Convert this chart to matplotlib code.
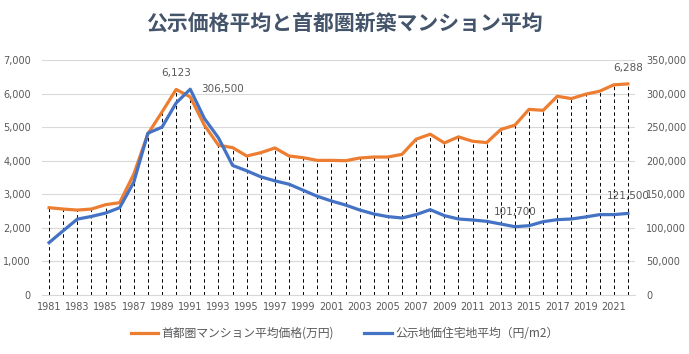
import matplotlib.pyplot as plt
import matplotlib.ticker as mticker
import numpy as np

plt.rcParams['font.family'] = ['Noto Sans CJK JP', 'DejaVu Sans']

years = list(range(1981, 2023))
# 首都圏マンション平均価格 (万円)
mansion = [2600, 2560, 2530, 2560, 2690, 2750, 3600, 4800, 5450, 6123,
           5900, 5060, 4460, 4390, 4140, 4240, 4380, 4140, 4090, 4010,
           4010, 4000, 4080, 4110, 4110, 4190, 4640, 4790, 4530, 4710,
           4580, 4540, 4930, 5060, 5530, 5500, 5920, 5850, 5980, 6070,
           6260, 6288]
# 公示地価住宅地平均 (円/m2)
land = [78000, 95700, 113000, 117000, 122000, 130000, 168000, 241000, 250000, 286000,
        306500, 263000, 234000, 193000, 185000, 176000, 170000, 165000, 156000, 147000,
        140000, 134000, 126600, 120700, 116700, 114700, 119700, 127100, 118200, 113200,
        111700, 109700, 105700, 101700, 103200, 109200, 112200, 113200, 116200, 119700,
        119700, 121500]

label_mansion = '首都圏マンション平均価格(万円)'
label_land = '公示地価住宅地平均（円/m2）'
title = '公示価格平均と首都圏新築マンション平均'

orange = '#ED7D31'
blue = '#4472C4'
txt = '#595959'

fig = plt.figure(figsize=(6.89, 3.54), dpi=100)
ax = fig.add_axes([0.061, 0.1667, 0.8605, 0.6638])
ax2 = ax.twinx()

ax.vlines(years, 0, mansion, colors='black', linestyles=(0, (3.6, 3)), linewidth=0.7, zorder=2)
l1, = ax.plot(years, mansion, color=orange, lw=2.3, zorder=3, label=label_mansion)
l2, = ax2.plot(years, land, color=blue, lw=2.3, zorder=3, label=label_land)

ax.set_xlim(1980.5, 2022.5)
ax.set_ylim(0, 7000)
ax2.set_ylim(0, 350000)
ax.set_yticks(np.arange(0, 7001, 1000))
ax2.set_yticks(np.arange(0, 350001, 50000))
ax.set_xticks(years[::2])
fmt = mticker.FuncFormatter(lambda v, p: f'{int(v):,}')
ax.yaxis.set_major_formatter(fmt)
ax2.yaxis.set_major_formatter(fmt)
ax.grid(axis='y', color='#D9D9D9', lw=0.8)
ax.set_axisbelow(True)

for a in (ax, ax2):
    for s in a.spines.values():
        s.set_visible(False)
    a.tick_params(length=0, labelsize=7, colors=txt, labelcolor=txt)
ax.spines['bottom'].set_visible(True)
ax.spines['bottom'].set_color('#D9D9D9')
ax.tick_params(axis='x', pad=5)
ax.tick_params(axis='y', pad=8)
ax2.tick_params(axis='y', pad=8)
for t in ax.get_xticklabels() + ax.get_yticklabels() + ax2.get_yticklabels():
    t.set_family('DejaVu Sans')

ax.annotate('6,123', (1990, 6123), xytext=(0, 8), textcoords='offset points',
            ha='center', va='bottom', fontsize=7.5, color=txt, family='DejaVu Sans')
ax.annotate('6,288', (2022, 6288), xytext=(0, 8), textcoords='offset points',
            ha='center', va='bottom', fontsize=7.5, color=txt, family='DejaVu Sans')
ax2.annotate('306,500', (1991, 306500), xytext=(8, 0), textcoords='offset points',
             ha='left', va='center', fontsize=7.5, color=txt, family='DejaVu Sans')
ax2.annotate('101,700', (2014, 101700), xytext=(0, 7), textcoords='offset points',
             ha='center', va='bottom', fontsize=7.5, color=txt, family='DejaVu Sans')
ax2.annotate('121,500', (2022, 121500), xytext=(0, 9), textcoords='offset points',
             ha='center', va='bottom', fontsize=7.5, color=txt, family='DejaVu Sans')

fig.suptitle(title, x=0.5, y=0.96, fontsize=15, fontweight='bold', color='#44546A')
fig.legend(handles=[l1, l2], loc='center', bbox_to_anchor=(0.5, 0.058), ncol=2,
           frameon=False, fontsize=8.5, labelcolor=txt, handlelength=2.3,
           columnspacing=2.6, handletextpad=0.3)

fig.savefig('out.png', dpi=100)
